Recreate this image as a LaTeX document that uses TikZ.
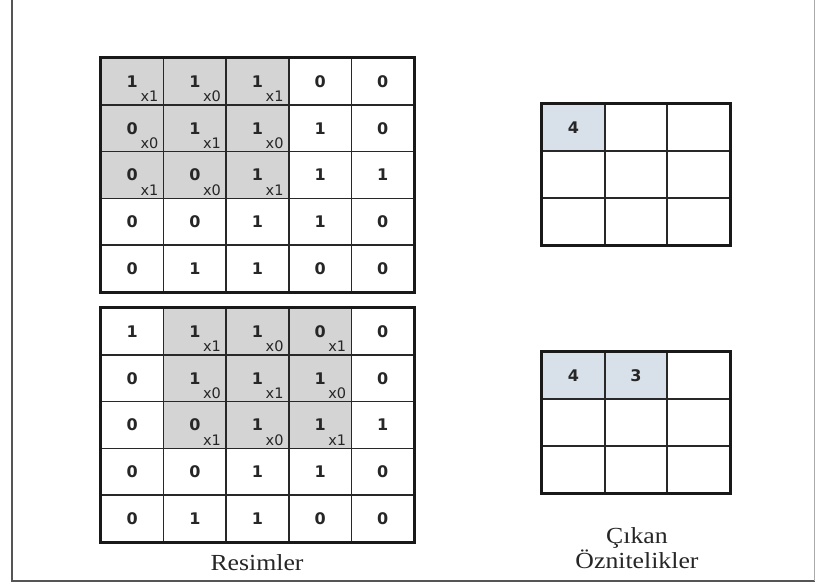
\documentclass[tikz,border=0pt]{standalone}
\usepackage{fontspec}
\setmainfont{Liberation Serif}
\newfontfamily\cellfont{DejaVu Sans}
\usetikzlibrary{calc}
\definecolor{cellgray}{RGB}{212,212,212}
\definecolor{outblue}{RGB}{216,224,234}
\definecolor{gridline}{RGB}{40,40,40}
\definecolor{framegray}{RGB}{85,85,85}
\tikzset{
  bigcell/.style={draw=gridline, line width=1.7pt, minimum width=62.6pt, minimum height=46.8pt, inner sep=0pt,
    font=\cellfont\bfseries\fontsize{16}{16}\selectfont, text=black!85},
  smallcell/.style={draw=gridline, line width=1.7pt, minimum width=62.67pt, minimum height=47pt, inner sep=0pt,
    font=\cellfont\bfseries\fontsize{16}{16}\selectfont, text=black!85},
  subtxt/.style={anchor=base west, inner sep=0pt, font=\cellfont\fontsize{14.5}{14.5}\selectfont, text=black!85},
  outerbox/.style={draw=black!90, line width=2.8pt},
  frameline/.style={draw=framegray, line width=2pt},
  lbl/.style={anchor=base, inner sep=0pt, font=\fontsize{23}{27}\selectfont, text=black!85}
}
\begin{document}
\begin{tikzpicture}[x=1pt,y=-1pt]
\useasboundingbox (0,0) rectangle (815,584);
\fill[white] (0,0) rectangle (815,584);
% frame
\draw[frameline] (12,-5) -- (12,581) -- (820,581);
\draw[draw=framegray!50, line width=1pt] (814,-5) -- (814,581);

% ---------- grid 1 ----------
\foreach \r/\c/\d/\f in {
 1/1/1/cellgray,1/2/1/cellgray,1/3/1/cellgray,1/4/0/white,1/5/0/white,
 2/1/0/cellgray,2/2/1/cellgray,2/3/1/cellgray,2/4/1/white,2/5/0/white,
 3/1/0/cellgray,3/2/0/cellgray,3/3/1/cellgray,3/4/1/white,3/5/1/white,
 4/1/0/white,4/2/0/white,4/3/1/white,4/4/1/white,4/5/0/white,
 5/1/0/white,5/2/1/white,5/3/1/white,5/4/0/white,5/5/0/white}{
  \pgfmathsetmacro\cx{101+62.6*(\c-0.5)}
  \pgfmathsetmacro\cy{58+46.8*(\r-0.5)}
  \node[bigcell, fill=\f] (a-\r-\c) at (\cx,\cy) {\d};
}
\foreach \r/\c/\s in {1/1/x1,1/2/x0,1/3/x1,2/1/x0,2/2/x1,2/3/x0,3/1/x1,3/2/x0,3/3/x1}{
  \node[subtxt] (a-\r-\c-s) at ($(a-\r-\c.center)+(8,20)$) {\s};
}
\draw[outerbox] (a-1-1.north west) rectangle (a-5-5.south east);

% ---------- grid 2 ----------
\foreach \r/\c/\d/\f in {
 1/1/1/white,1/2/1/cellgray,1/3/1/cellgray,1/4/0/cellgray,1/5/0/white,
 2/1/0/white,2/2/1/cellgray,2/3/1/cellgray,2/4/1/cellgray,2/5/0/white,
 3/1/0/white,3/2/0/cellgray,3/3/1/cellgray,3/4/1/cellgray,3/5/1/white,
 4/1/0/white,4/2/0/white,4/3/1/white,4/4/1/white,4/5/0/white,
 5/1/0/white,5/2/1/white,5/3/1/white,5/4/0/white,5/5/0/white}{
  \pgfmathsetmacro\cx{101+62.6*(\c-0.5)}
  \pgfmathsetmacro\cy{308+46.8*(\r-0.5)}
  \node[bigcell, fill=\f] (b-\r-\c) at (\cx,\cy) {\d};
}
\foreach \r/\c/\s in {1/2/x1,1/3/x0,1/4/x1,2/2/x0,2/3/x1,2/4/x0,3/2/x1,3/3/x0,3/4/x1}{
  \node[subtxt] (b-\r-\c-s) at ($(b-\r-\c.center)+(8,20)$) {\s};
}
\draw[outerbox] (b-1-1.north west) rectangle (b-5-5.south east);

% ---------- output grid 1 ----------
\foreach \r/\c/\d/\f in {
 1/1/4/outblue,1/2//white,1/3//white,
 2/1//white,2/2//white,2/3//white,
 3/1//white,3/2//white,3/3//white}{
  \pgfmathsetmacro\cx{542+62.67*(\c-0.5)}
  \pgfmathsetmacro\cy{104+47*(\r-0.5)}
  \node[smallcell, fill=\f] (c-\r-\c) at (\cx,\cy) {\d};
}
\draw[outerbox] (c-1-1.north west) rectangle (c-3-3.south east);

% ---------- output grid 2 ----------
\foreach \r/\c/\d/\f in {
 1/1/4/outblue,1/2/3/outblue,1/3//white,
 2/1//white,2/2//white,2/3//white,
 3/1//white,3/2//white,3/3//white}{
  \pgfmathsetmacro\cx{542+62.67*(\c-0.5)}
  \pgfmathsetmacro\cy{352+47*(\r-0.5)}
  \node[smallcell, fill=\f] (d-\r-\c) at (\cx,\cy) {\d};
}
\draw[outerbox] (d-1-1.north west) rectangle (d-3-3.south east);

% ---------- labels ----------
\node[lbl] (resimler) at (257,570) {\scalebox{1.12}[1]{Resimler}};
\node[lbl] (cikan) at (637,543) {\scalebox{1.12}[1]{Çıkan}};
\node[lbl] (oznit) at (637,568) {\scalebox{1.12}[1]{Öznitelikler}};
\end{tikzpicture}
\end{document}
